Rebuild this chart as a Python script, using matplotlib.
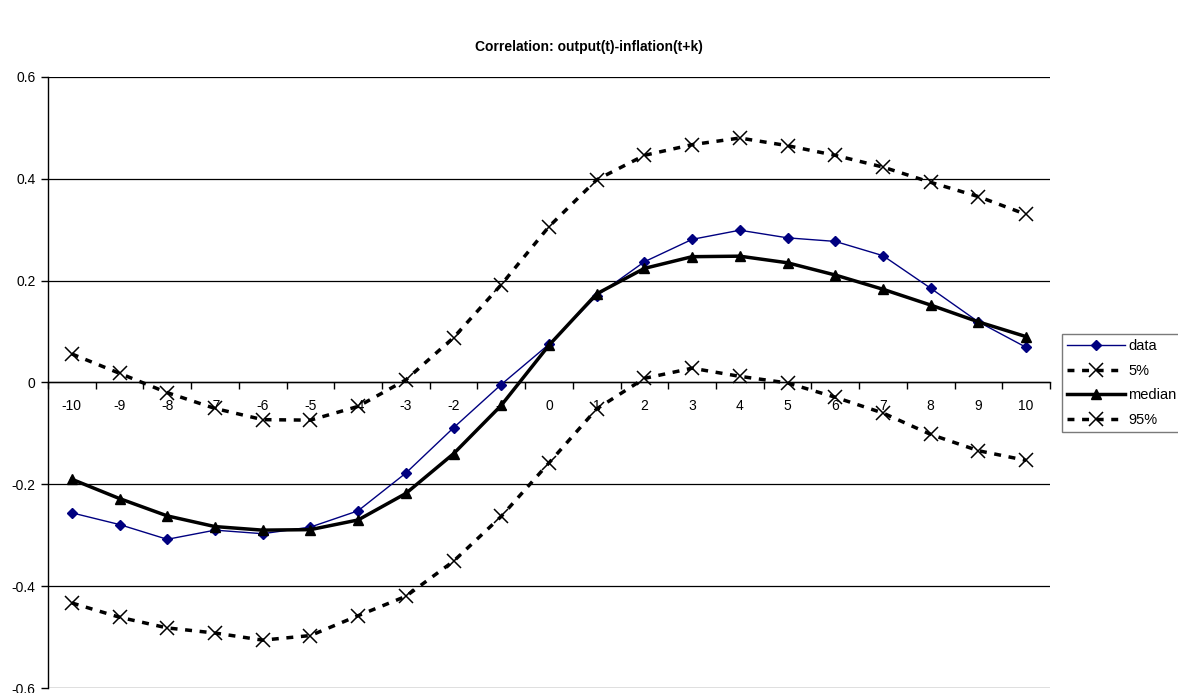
import matplotlib
matplotlib.use("Agg")
import matplotlib.pyplot as plt
import numpy as np

# lag k and correlations
lags = list(range(-10, 11))
data = [-0.256, -0.279, -0.308, -0.290, -0.297, -0.284, -0.252, -0.178, -0.089, -0.004,
        0.075, 0.170, 0.237, 0.281, 0.299, 0.284, 0.277, 0.249, 0.185, 0.119, 0.069]
median = [-0.190, -0.228, -0.262, -0.283, -0.290, -0.289, -0.270, -0.218, -0.140, -0.045,
          0.073, 0.174, 0.224, 0.247, 0.248, 0.235, 0.211, 0.183, 0.152, 0.119, 0.090]
p5 = [-0.433, -0.461, -0.482, -0.492, -0.506, -0.497, -0.458, -0.420, -0.351, -0.263,
      -0.158, -0.052, 0.008, 0.028, 0.012, -0.001, -0.029, -0.060, -0.102, -0.134, -0.153]
p95 = [0.056, 0.018, -0.020, -0.051, -0.073, -0.074, -0.047, 0.005, 0.088, 0.192,
       0.306, 0.398, 0.446, 0.467, 0.480, 0.465, 0.446, 0.423, 0.393, 0.365, 0.330]
yticks = [-0.6, -0.4, -0.2, 0, 0.2, 0.4, 0.6]
ytick_labels = ["-0.6", "-0.4", "-0.2", "0", "0.2", "0.4", "0.6"]

plt.rcParams['font.family'] = ['Liberation Sans', 'DejaVu Sans']
plt.rcParams['font.size'] = 10

fig = plt.figure(figsize=(11.78, 6.93), dpi=100)
ax = fig.add_axes([0.0407, 0.0072, 0.8506, 0.8818])

x = np.arange(len(lags))
dash = (0, (2, 2.2))
ax.plot(x, data, color='#000080', lw=1, marker='D', ms=5.5, label='data', zorder=4)
ax.plot(x, p5, color='black', lw=2.5, ls=dash, marker='x', ms=10, mew=1.1, label='5%', zorder=3)
ax.plot(x, median, color='black', lw=2.5, marker='^', ms=7, label='median', zorder=4)
ax.plot(x, p95, color='black', lw=2.5, ls=dash, marker='x', ms=10, mew=1.1, label='95%', zorder=3)

ax.set_xlim(-0.5, len(lags) - 0.5)
ax.set_ylim(-0.6, 0.6)

# category axis crossing at zero
ax.spines['bottom'].set_position(('data', 0))
ax.spines['top'].set_visible(False)
ax.spines['right'].set_visible(False)
for s in ['left', 'bottom']:
    ax.spines[s].set_linewidth(1)
    ax.spines[s].set_color('black')

ax.set_xticks(np.arange(len(lags) + 1) - 0.5)
ax.set_xticklabels([])
ax.set_xticks(x, minor=True)
ax.set_xticklabels([str(v) for v in lags], minor=True)
ax.tick_params(axis='x', which='major', direction='out', length=5, width=1)
ax.tick_params(axis='x', which='minor', length=0, pad=12, labelsize=10)

ax.set_yticks(yticks)
ax.set_yticklabels(ytick_labels)
ax.tick_params(axis='y', direction='out', length=5, width=1, pad=4, labelsize=10)
ax.yaxis.grid(True, color='black', lw=0.9)
ax.set_axisbelow(True)

fig.text(0.5, 1 - 47 / 693, 'Correlation: output(t)-inflation(t+k)',
         ha='center', va='center', fontsize=10, fontweight='bold')

leg = fig.legend(loc='upper left', bbox_to_anchor=(1062 / 1178, 1 - 334 / 693),
                 handlelength=4, numpoints=1, fancybox=False, frameon=True,
                 borderaxespad=0, borderpad=0.35, labelspacing=0.72, handletextpad=0.2,
                 fontsize=10.5)
leg.get_frame().set_edgecolor('0.35')
leg.get_frame().set_linewidth(1)

fig.savefig('out.png', dpi=100)
